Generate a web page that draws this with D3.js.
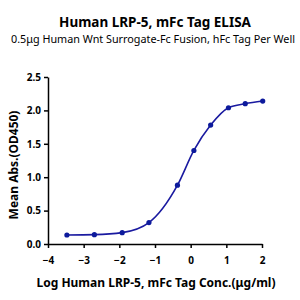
<!DOCTYPE html>
<html>
<head>
<script src="https://d3js.org/d3.v7.min.js"></script>
<style>
  body { margin: 0; background: #fff; }
  text { font-family: "Noto Sans", "Open Sans", sans-serif; }
  .axis text { font-size: 10px; font-weight: bold; fill: #000; }
  .axis path, .axis line { stroke: #000; stroke-width: 1.5px; }
</style>
</head>
<body>
<div id="chart"></div>
<script>
  // log concentration vs mean OD450
  var logConc = [-3.47, -2.70, -1.92, -1.17, -0.37, 0.09, 0.56, 1.06, 1.53, 2.02];
  var od450 = [0.135, 0.14, 0.17, 0.32, 0.88, 1.40, 1.78, 2.04, 2.10, 2.14];
  var xTicks = [-4, -3, -2, -1, 0, 1, 2];
  var yTicks = [0.0, 0.5, 1.0, 1.5, 2.0, 2.5];

  var W = 300, H = 300;
  var margin = { top: 77, right: 38, bottom: 56, left: 48 };

  var svg = d3.select("#chart").append("svg")
    .attr("width", W)
    .attr("height", H);

  var x = d3.scaleLinear().domain([-4, 2]).range([margin.left, W - margin.right]);
  var y = d3.scaleLinear().domain([0, 2.5]).range([H - margin.bottom, margin.top]);

  svg.append("text")
    .attr("x", 155).attr("y", 27)
    .attr("text-anchor", "middle")
    .style("font-size", "13.5px").style("font-weight", "bold")
    .text("Human LRP-5, mFc Tag ELISA");

  svg.append("text")
    .attr("x", 153).attr("y", 43)
    .attr("text-anchor", "middle")
    .style("font-size", "10.8px")
    .text("0.5μg Human Wnt Surrogate-Fc Fusion, hFc Tag Per Well");

  svg.append("g")
    .attr("class", "axis")
    .attr("transform", "translate(0," + (H - margin.bottom) + ")")
    .call(d3.axisBottom(x).tickValues(xTicks).tickSize(4).tickSizeOuter(0).tickFormat(d3.format("d")))
    .selectAll("text").attr("dy", "1.3em");

  svg.append("g")
    .attr("class", "axis")
    .attr("transform", "translate(" + margin.left + ",0)")
    .call(d3.axisLeft(y).tickValues(yTicks).tickSize(4).tickSizeOuter(0).tickFormat(d3.format(".1f")));

  svg.append("text")
    .attr("transform", "translate(18," + 165 + ") rotate(-90)")
    .attr("text-anchor", "middle")
    .style("font-size", "12px").style("font-weight", "bold")
    .text("Mean Abs.(OD450)");

  svg.append("text")
    .attr("x", 156).attr("y", 287)
    .attr("text-anchor", "middle")
    .style("font-size", "12px").style("font-weight", "bold")
    .text("Log Human LRP-5, mFc Tag Conc.(μg/ml)");

  var pts = logConc.map(function(d, i) { return [d, od450[i]]; });

  var line = d3.line()
    .x(function(d) { return x(d[0]); })
    .y(function(d) { return y(d[1]); })
    .curve(d3.curveMonotoneX);

  svg.append("path")
    .datum(pts)
    .attr("fill", "none")
    .attr("stroke", "#1a1aa0")
    .attr("stroke-width", 1.6)
    .attr("d", line);

  svg.selectAll("circle")
    .data(pts)
    .enter()
    .append("circle")
    .attr("cx", function(d) { return x(d[0]); })
    .attr("cy", function(d) { return y(d[1]); })
    .attr("r", 2.6)
    .attr("fill", "#0d1a9c");
</script>
</body>
</html>
